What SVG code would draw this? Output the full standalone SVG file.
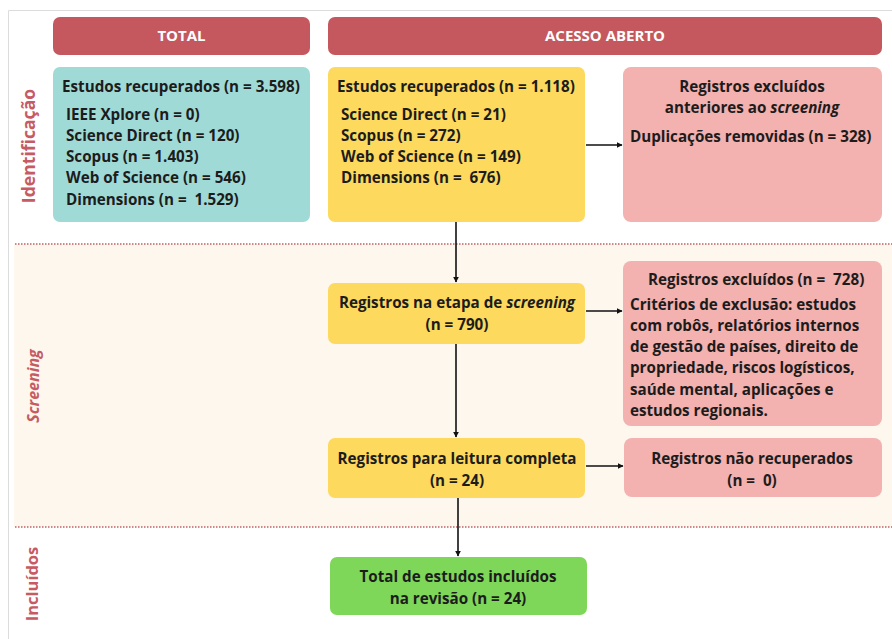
<svg xmlns="http://www.w3.org/2000/svg" width="892" height="639" viewBox="0 0 892 639">
<defs>
<marker id="arr" viewBox="0 0 10 10" refX="9" refY="5" markerWidth="6" markerHeight="6" orient="auto" markerUnits="userSpaceOnUse">
<path d="M0,0 L10,5 L0,10 z" fill="#111"/>
</marker>
<style>
text{font-family:"Open Sans","Noto Sans","Liberation Sans",sans-serif;font-weight:700;fill:#1c1c1c;font-size:15.2px}
.hd{fill:#c4585e}
.hdt{fill:#fff;font-weight:700;font-size:15px}
.teal{fill:#9fdad6}
.yel{fill:#fdd95e}
.pink{fill:#f3b1af}
.green{fill:#7fd75a}
.c{text-anchor:middle}
.lab{fill:#c65b63;font-size:17.6px;text-anchor:middle}
.dot{stroke:#c0606a;stroke-width:1.5;stroke-dasharray:1.5 1.5}
.conn line{stroke:#111;stroke-width:1.6;marker-end:url(#arr)}
</style>
</defs>
<rect x="0" y="0" width="892" height="639" fill="#fff"/>
<path d="M8.5,639 V10.5 H892" fill="none" stroke="#dcdcdc" stroke-width="1"/>
<rect x="14" y="244" width="878" height="283" fill="#fdf7ee"/>
<line class="dot" x1="15" y1="244" x2="892" y2="244"/>
<line class="dot" x1="15" y1="527" x2="892" y2="527"/>

<text class="lab" transform="translate(35,146) rotate(-90)">Identificação</text>
<text class="lab" transform="translate(39,386) rotate(-90)" style="font-style:italic;font-size:16px">Screening</text>
<text class="lab" transform="translate(38,584) rotate(-90)" style="font-size:16.5px">Incluídos</text>

<g id="hdr-total"><rect class="hd" x="53" y="17" width="257" height="38" rx="7"/><text class="hdt c" x="181.5" y="41">TOTAL</text></g>
<g id="hdr-acesso"><rect class="hd" x="328" y="17" width="554" height="38" rx="7"/><text class="hdt c" x="605" y="41">ACESSO ABERTO</text></g>

<g id="total-estudos"><rect class="teal" x="53" y="67" width="257" height="155" rx="7"/>
<text x="62" y="92">Estudos recuperados (n = 3.598)</text>
<text x="66" y="120">IEEE Xplore (n = 0)</text>
<text x="66" y="141">Science Direct (n = 120)</text>
<text x="66" y="162">Scopus (n = 1.403)</text>
<text x="66" y="183">Web of Science (n = 546)</text>
<text x="66" y="205" xml:space="preserve">Dimensions (n =  1.529)</text>
</g>

<g id="aberto-estudos"><rect class="yel" x="328" y="67" width="257" height="155" rx="7"/>
<text x="337" y="92">Estudos recuperados (n = 1.118)</text>
<text x="341" y="120">Science Direct (n = 21)</text>
<text x="341" y="141">Scopus (n = 272)</text>
<text x="341" y="162">Web of Science (n = 149)</text>
<text x="341" y="183" xml:space="preserve">Dimensions (n =  676)</text>
</g>

<g id="excl-anteriores"><rect class="pink" x="623" y="67" width="259" height="155" rx="8"/>
<text class="c" x="752" y="92">Registros excluídos</text>
<text class="c" x="752" y="113">anteriores ao <tspan font-style="italic">screening</tspan></text>
<text x="630" y="142">Duplicações removidas (n = 328)</text>
</g>

<g id="screening"><rect class="yel" x="328" y="283" width="257" height="61" rx="7"/>
<text class="c" x="457" y="308">Registros na etapa de <tspan font-style="italic">screening</tspan></text>
<text class="c" x="457" y="330">(n = 790)</text>
</g>

<g id="excl-screening"><rect class="pink" x="623" y="261" width="259" height="165" rx="8"/>
<text x="648" y="285" xml:space="preserve">Registros excluídos (n =  728)</text>
<text x="630" y="310">Critérios de exclusão: estudos</text>
<text x="630" y="331">com robôs, relatórios internos</text>
<text x="630" y="352">de gestão de países, direito de</text>
<text x="630" y="373">propriedade, riscos logísticos,</text>
<text x="630" y="395">saúde mental, aplicações e</text>
<text x="630" y="416">estudos regionais.</text>
</g>

<g id="leitura"><rect class="yel" x="328" y="438" width="257" height="60" rx="7"/>
<text class="c" x="457" y="464">Registros para leitura completa</text>
<text class="c" x="457" y="486">(n = 24)</text>
</g>

<g id="nao-recuperados"><rect class="pink" x="624" y="438" width="258" height="59" rx="8"/>
<text class="c" x="752" y="464">Registros não recuperados</text>
<text class="c" x="752" y="486" xml:space="preserve">(n =  0)</text>
</g>

<g id="incluidos"><rect class="green" x="330" y="557" width="257" height="58" rx="7"/>
<text class="c" x="458" y="582">Total de estudos incluídos</text>
<text class="c" x="458" y="604">na revisão (n = 24)</text>
</g>

<g id="connectors" class="conn">
<line x1="586" y1="145" x2="622" y2="145"/>
<line x1="456" y1="222" x2="456" y2="282"/>
<line x1="586" y1="311" x2="622" y2="311"/>
<line x1="456" y1="344" x2="456" y2="437"/>
<line x1="586" y1="466" x2="623" y2="466"/>
<line x1="458" y1="498" x2="458" y2="556"/>
</g>
</svg>
